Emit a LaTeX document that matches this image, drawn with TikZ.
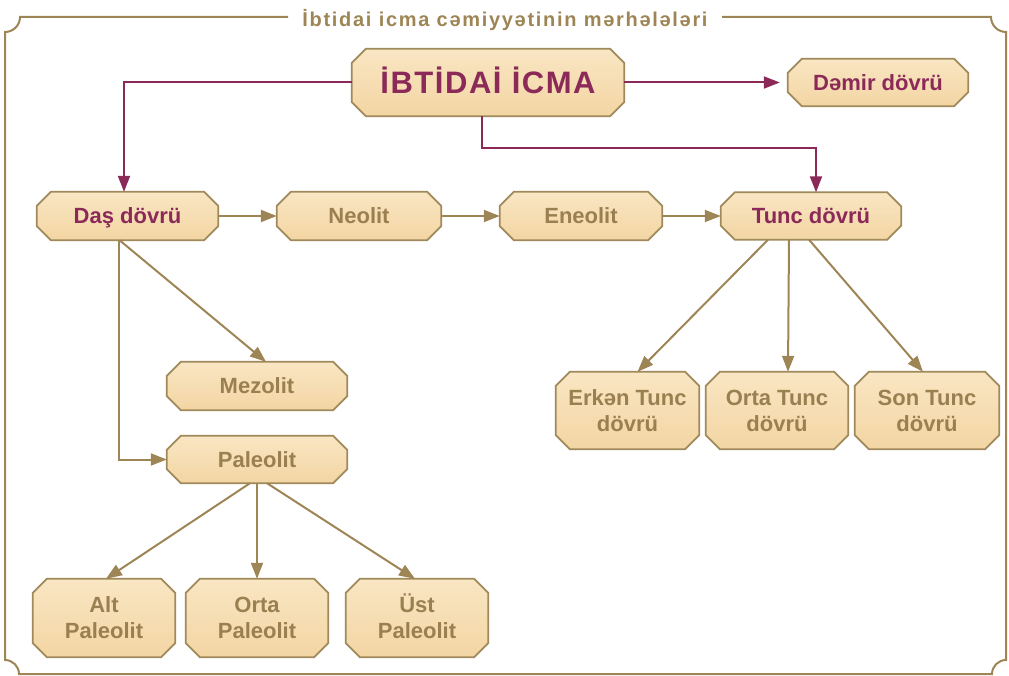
\documentclass[tikz,border=0pt]{standalone}
\usepackage{fontspec}
\setmainfont{Liberation Sans}
\newfontfamily\titlefont[LetterSpace=8.5]{Liberation Sans}
\newfontfamily\bigfont[LetterSpace=5]{Liberation Sans}
\usetikzlibrary{arrows.meta,calc}
\pgfdeclarelayer{background}
\pgfsetlayers{background,main}
\definecolor{frm}{RGB}{158,133,85}
\definecolor{mar}{RGB}{139,41,89}
\definecolor{txtb}{RGB}{154,128,80}
\definecolor{bordc}{RGB}{160,137,90}
\definecolor{ptop}{RGB}{249,230,195}
\definecolor{pbot}{RGB}{243,213,163}
\newcommand\chambox[7]{%
  \node[#6,minimum width=#4pt,minimum height=#5pt] (#1) at (#2,#3) {#7};
  \begin{pgfonlayer}{background}
  \path[boxbg] ([xshift=14pt]#1.north west) -- ([xshift=-14pt]#1.north east)
     -- ([yshift=-14pt]#1.north east) -- ([yshift=14pt]#1.south east)
     -- ([xshift=-14pt]#1.south east) -- ([xshift=14pt]#1.south west)
     -- ([yshift=14pt]#1.south west) -- ([yshift=-14pt]#1.north west) -- cycle;
  \end{pgfonlayer}}
\begin{document}
\begin{tikzpicture}[x=1pt,y=-1pt,
  frame/.style={draw=frm,line width=2pt},
  boxbg/.style={draw=bordc,line width=1.8pt,top color=ptop,bottom color=pbot,line join=miter},
  boxtxt/.style={inner sep=0pt,font=\bfseries\fontsize{22}{26}\selectfont,align=center},
  dark/.style={boxtxt,text=mar},
  light/.style={boxtxt,text=txtb},
  one/.style={text height=15.8pt,text depth=0pt},
  two/.style={light,text height=41.8pt,text depth=0pt},
  mconn/.style={draw=mar,line width=2pt,-{Triangle[length=16pt,width=12pt]}},
  bconn/.style={draw=frm,line width=2pt,-{Triangle[length=16pt,width=12pt]}}]
\useasboundingbox (0,0) rectangle (1009,676);
% frame
\node[anchor=base,inner sep=0pt,text=frm,font=\titlefont\bfseries\fontsize{20}{24}\selectfont] (title) at (505,26.5) {İbtidai icma cəmiyyətinin mərhələləri};
\draw[frame] (288,17) -- (20,17) .. controls (20,25.3) and (13.3,32) .. (5,32)
  -- (5,660) .. controls (12.7,660) and (19,666.3) .. (19,674)
  -- (992,674) .. controls (992,666.3) and (998.3,660) .. (1006,660)
  -- (1006,32) .. controls (997.7,32) and (991,25.3) .. (991,17) -- (722,17);
% nodes
\chambox{top}{488}{82.5}{272}{67}{inner sep=0pt,text=mar,font=\bigfont\bfseries\fontsize{31}{36}\selectfont,text height=22pt,text depth=0pt}{İBTİDAİ İCMA}
\chambox{demir}{878}{82.5}{180}{47}{dark,one}{Dəmir dövrü}
\chambox{das}{127.5}{216}{181}{48}{dark,one}{Daş dövrü}
\chambox{neolit}{359}{216}{164}{48}{light,one}{Neolit}
\chambox{eneolit}{581}{216}{162}{48}{light,one}{Eneolit}
\chambox{tunc}{811}{216}{180}{47}{dark,one}{Tunc dövrü}
\chambox{mezolit}{257}{386}{180}{48}{light,one}{Mezolit}
\chambox{paleolit}{257}{459.5}{180}{47}{light,one}{Paleolit}
\chambox{alt}{104}{618}{142}{78}{two}{Alt\\Paleolit}
\chambox{ortap}{257}{618}{142}{78}{two}{Orta\\Paleolit}
\chambox{ust}{417}{618}{142}{78}{two}{Üst\\Paleolit}
\chambox{erken}{627.5}{410.5}{143}{77}{two}{Erkən Tunc\\dövrü}
\chambox{ortat}{777}{410.5}{142}{77}{two}{Orta Tunc\\dövrü}
\chambox{son}{927}{410.5}{144}{77}{two}{Son Tunc\\dövrü}
% maroon connectors
\draw[mconn] (top.west) -| ([xshift=-3.5pt]das.north);
\draw[mconn,shorten >=8pt] (top.east) -- (demir.west);
\draw[mconn] ([xshift=-6pt]top.south) -- ++(0,32) -| ([xshift=5pt]tunc.north);
% brown connectors
\draw[bconn] (das.east) -- (neolit.west);
\draw[bconn] (neolit.east) -- (eneolit.west);
\draw[bconn] (eneolit.east) -- (tunc.west);
\draw[bconn] ([xshift=-9pt]das.south) |- (paleolit.west);
\draw[bconn] ([xshift=-8pt]das.south) -- ([xshift=9pt]mezolit.north);
\draw[bconn] ([xshift=-7pt]paleolit.south) -- ([xshift=2pt]alt.north);
\draw[bconn] (paleolit.south) -- (ortap.north);
\draw[bconn] ([xshift=10pt]paleolit.south) -- ([xshift=-2pt]ust.north);
\draw[bconn] ([xshift=-43pt]tunc.south) -- ([xshift=10pt]erken.north);
\draw[bconn] ([xshift=-22pt]tunc.south) -- ([xshift=11pt]ortat.north);
\draw[bconn] ([xshift=-2pt]tunc.south) -- ([xshift=-4pt]son.north);
\end{tikzpicture}
\end{document}
